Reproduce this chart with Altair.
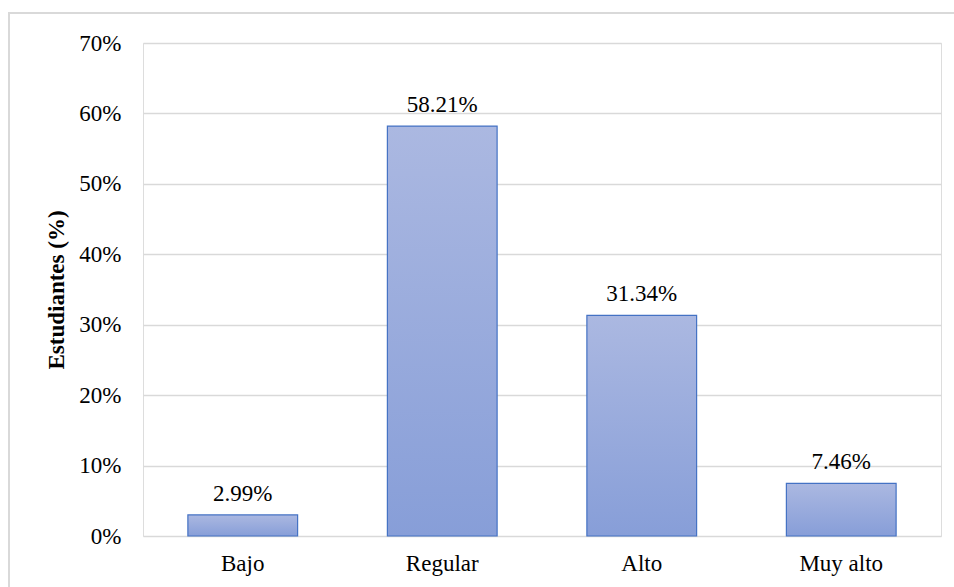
import altair as alt
import pandas as pd

categories = ["Bajo", "Regular", "Alto", "Muy alto"]
values = [2.99, 58.21, 31.34, 7.46]
labels = ["2.99%", "58.21%", "31.34%", "7.46%"]

df = pd.DataFrame({"cat": categories, "val": values, "lab": labels})

FONT = "Liberation Serif"

grad = alt.LinearGradient(
    gradient="linear",
    stops=[alt.GradientStop(color="#abb8e1", offset=0),
           alt.GradientStop(color="#879ed8", offset=1)],
    x1=0, x2=0, y1=0, y2=1,
)

x = alt.X("cat:N", sort=categories, title=None,
          scale=alt.Scale(paddingInner=0.45, paddingOuter=0.225),
          axis=alt.Axis(labelAngle=0, labelFont=FONT, labelFontSize=23, labelColor="#000000",
                        labelPadding=16, ticks=False, domain=False, grid=False))
y = alt.Y("val:Q", title="Estudiantes (%)",
          scale=alt.Scale(domain=[0, 70], nice=False),
          axis=alt.Axis(values=[0, 10, 20, 30, 40, 50, 60, 70],
                        labelExpr="datum.value + '%'",
                        labelFont=FONT, labelFontSize=23, labelColor="#000000", labelPadding=22,
                        ticks=False, domain=False, grid=True, gridColor="#d9d9d9", gridWidth=1.5,
                        titleFont=FONT, titleFontSize=23, titleFontWeight="bold", titleColor="#000000",
                        titlePadding=10))

frame = alt.Chart(df).mark_rect(fill=None, stroke="#d9d9d9", strokeWidth=2).encode(
    x=alt.value(-134), x2=alt.value(812), y=alt.value(-30), y2=alt.value(600)
)

bars = alt.Chart(df).mark_bar(color=grad, stroke="#4472c4", strokeWidth=1.2).encode(x=x, y=y)

text = alt.Chart(df).mark_text(baseline="bottom", dy=-9, font=FONT, fontSize=23, color="#000000").encode(
    x=alt.X("cat:N", sort=categories), y="val:Q", text="lab:N"
)

chart = alt.layer(frame, bars, text).properties(
    width=798, height=493,
    autosize=alt.AutoSizeParams(type="none"),
    padding={"left": 143, "top": 43, "right": 13, "bottom": 51},
).configure_view(stroke=None).configure(background="#ffffff")

chart.save("out.html", embed_options={"renderer": "svg", "actions": False})
